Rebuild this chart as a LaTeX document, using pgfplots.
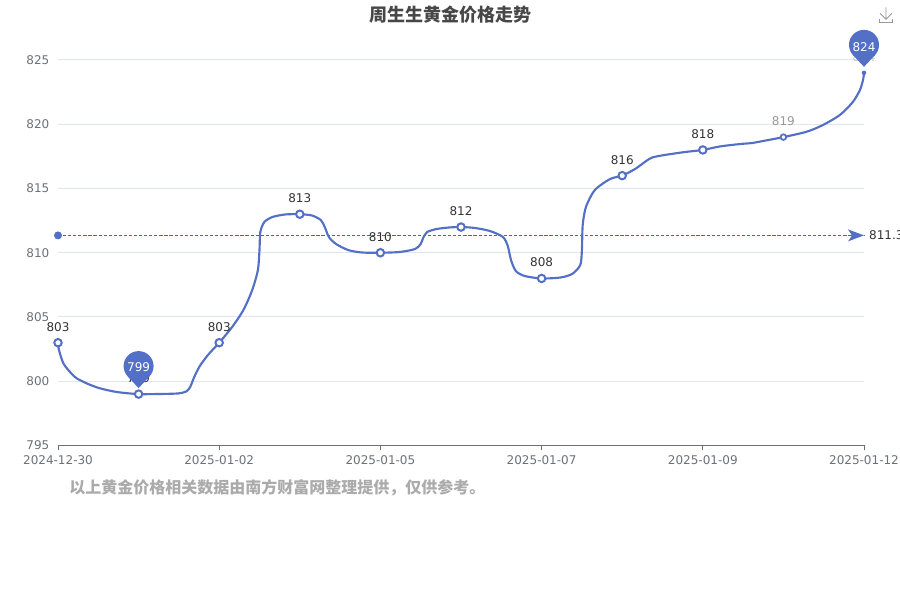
\documentclass[border=0pt]{standalone}
\usepackage{fontspec}
\setmainfont{DejaVu Sans}
\newfontfamily\cjk{Noto Sans CJK SC}
\usepackage{pgfplots}
\pgfplotsset{compat=1.18}
\definecolor{cline}{HTML}{5470C6}
\definecolor{cpin}{HTML}{5470C6}
\definecolor{ctick}{HTML}{6E7079}
\definecolor{cgrid}{HTML}{E0E6F1}
\definecolor{clabel}{HTML}{333333}
\pgfdeclareplotmark{pinmark}{%
  \pgfsetfillcolor{cpin}%
  \pgfpathcircle{\pgfpoint{0pt}{21pt}}{11.25pt}%
  \pgfusepathqfill
  \pgfpathmoveto{\pgfpoint{-8.23pt}{13.33pt}}%
  \pgfpathlineto{\pgfpoint{8.23pt}{13.33pt}}%
  \pgfpathlineto{\pgfpoint{0pt}{4.5pt}}%
  \pgfpathclose
  \pgfusepathqfill
}
\pgfdeclareplotmark{dotmark}{%
  \pgfsetfillcolor{cline}%
  \pgfpathcircle{\pgfpointorigin}{\pgfplotmarksize}%
  \pgfusepathqfill
}
\pgfdeclareplotmark{arrowmark}{%
  \pgfsetfillcolor{cline}%
  \pgfpathmoveto{\pgfpoint{0pt}{0pt}}%
  \pgfpathlineto{\pgfpoint{-12pt}{4.5pt}}%
  \pgfpathlineto{\pgfpoint{-9pt}{0pt}}%
  \pgfpathlineto{\pgfpoint{-12pt}{-4.5pt}}%
  \pgfpathclose
  \pgfusepathqfill
}
\pgfplotstableread{
x y
0 803
0.012 802.43
0.066 801.40
0.149 800.72
0.232 800.23
0.372 799.79
0.521 799.45
0.732 799.16
1 799
1.27 799.01
1.49 799.05
1.59 799.20
1.64 799.55
1.69 800.33
1.76 801.19
1.86 802.04
2 803
2.16 804.22
2.30 805.54
2.41 807.10
2.48 808.66
2.50 810.21
2.51 811.61
2.56 812.39
2.66 812.78
2.82 812.98
3 813
3.15 812.90
3.26 812.55
3.31 812.0
3.36 811.23
3.45 810.68
3.60 810.21
3.77 810.02
4 810
4.24 810.06
4.43 810.29
4.50 810.68
4.53 811.15
4.58 811.61
4.70 811.85
4.86 811.97
5 812
5.17 811.93
5.36 811.69
5.52 811.23
5.58 810.53
5.62 809.44
5.68 808.58
5.79 808.19
6 808
6.23 808.07
6.38 808.35
6.48 809.05
6.50 810.21
6.51 812.16
6.55 813.56
6.66 814.88
6.85 815.74
7 816
7.16 816.52
7.28 817.06
7.37 817.41
7.53 817.61
7.78 817.84
8 818
8.21 818.27
8.46 818.46
8.61 818.54
8.81 818.77
9 819
9.29 819.42
9.49 819.94
9.70 820.72
9.86 821.72
9.95 822.67
9.99 823.5
10 824
}\curvetable
\begin{document}
\begin{tikzpicture}
\path[use as bounding box] (0,0) rectangle (675pt,450pt);
\begin{axis}[
  at={(43.5pt,115.875pt)}, anchor=south west,
  scale only axis, width=604.5pt, height=289.125pt,
  xmin=0, xmax=10, ymin=795, ymax=825,
  clip=false,
  axis lines=left, axis line style={draw=ctick, line width=0.75pt, -},
  y axis line style={draw=none},
  xtick={0,2,4,6,8,10},
  xticklabels={2024-12-30,2025-01-02,2025-01-05,2025-01-07,2025-01-09,2025-01-12},
  ytick={795,800,...,825},
  x tick style={draw=ctick, line width=0.75pt},
  y tick style={draw=none},
  tick align=outside, major tick length=3.75pt,
  ymajorgrids, grid style={draw=cgrid, line width=0.75pt},
  tick label style={font=\fontsize{9}{11}\selectfont, text=ctick},
  yticklabel style={xshift=0.75pt},
  xticklabel style={yshift=-0.25pt},
  /pgf/number format/assume math mode=true,
  /pgf/number format/1000 sep={},
  axis on top=false,
  nodes near coords style={font=\fontsize{9}{11}\selectfont, anchor=center, /pgf/number format/fixed, /pgf/number format/precision=0},
]
% mean line
\addplot[cline!88!black, line width=0.8pt, dash pattern=on 2.4pt off 1.4pt, forget plot] coordinates {(0,811.35)(10,811.35)};
\addplot[only marks, mark=dotmark, mark size=3pt] coordinates {(0,811.35)};
\addplot[only marks, mark=arrowmark, point meta=explicit symbolic, nodes near coords, nodes near coords style={text=clabel, anchor=west, xshift=0.3pt}] coordinates {(10,811.35) [811.3]};
% curve
\addplot[cline, line width=1.6pt, line join=round, smooth, tension=0.45] table {\curvetable};
% data points
\addplot[only marks, mark=*, mark size=2.8pt, mark options={fill=white, draw=cline, line width=1.5pt},
  nodes near coords, nodes near coords style={text=clabel, yshift=12pt}]
  coordinates {(0,803)(1,799)(2,803)(3,813)(4,810)(5,812)(6,808)(7,816)(8,818)};
\addplot[only marks, mark=*, mark size=2.1pt, mark options={fill=white, draw=cline, line width=1.3pt},
  nodes near coords, nodes near coords style={text=clabel!50!white, yshift=12pt}]
  coordinates {(9,819)};
\addplot[only marks, mark=dotmark, mark size=1.7pt,
  nodes near coords, nodes near coords style={text=clabel!25!white, yshift=12pt}]
  coordinates {(10,824)};
% pins
\addplot[only marks, mark=pinmark, nodes near coords, nodes near coords style={text=white, yshift=20.25pt}]
  coordinates {(1,799)};
\addplot[only marks, mark=pinmark, nodes near coords, nodes near coords style={text=white, yshift=19.5pt}]
  coordinates {(10,824)};
\end{axis}
\node[anchor=center, text=black!72, inner sep=0pt, font=\cjk\bfseries\fontsize{13.5}{16}\selectfont] at (337.5pt,439pt) {周生生黄金价格走势};
\node[anchor=west, text=black!33, inner sep=0pt, font=\cjk\bfseries\fontsize{12}{14}\selectfont] at (51.75pt,84pt) {以上黄金价格相关数据由南方财富网整理提供，仅供参考。};
% download icon
\draw[black!40, line width=0.7pt] (659.5pt,436pt) -- (659.5pt,433pt) -- (669.5pt,433pt) -- (669.5pt,436pt);
\draw[black!40, line width=0.7pt] (664.5pt,444.5pt) -- (664.5pt,435.5pt) (660pt,440pt) -- (664.5pt,435.5pt) -- (669pt,440pt);
\end{tikzpicture}
\end{document}
